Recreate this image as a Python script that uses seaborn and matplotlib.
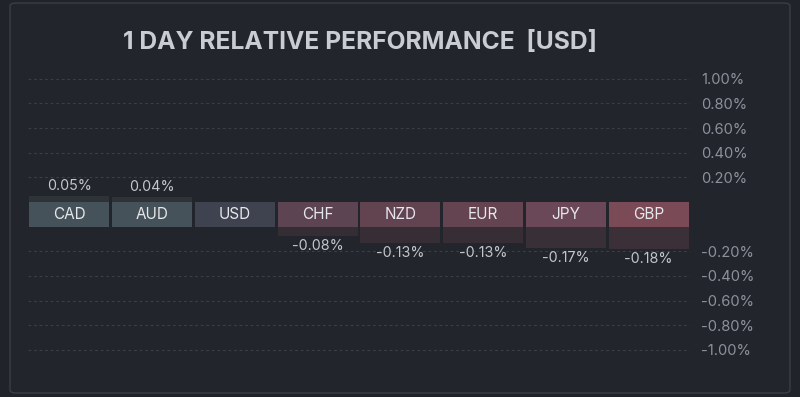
import numpy as np
import pandas as pd
import seaborn as sns
import matplotlib.pyplot as plt
from matplotlib.patches import FancyBboxPatch

# ---- data ----
currencies = ["CAD", "AUD", "USD", "CHF", "NZD", "EUR", "JPY", "GBP"]
changes = [0.05, 0.04, 0.00, -0.08, -0.13, -0.13, -0.17, -0.18]
box_colors = ["#45525a", "#45525a", "#3f4350", "#5d4452", "#624350", "#644451", "#6a4857", "#7a4a56"]
bar_colors = ["#2c3338", "#2c3338", "#2a2d36", "#352c35", "#372c36", "#382c36", "#3a2e38", "#3d2e38"]
tick_values = [1.0, 0.8, 0.6, 0.4, 0.2, -0.2, -0.4, -0.6, -0.8, -1.0]
title = "1 DAY RELATIVE PERFORMANCE  [USD]"
band = 0.1  # half-height of the label band around zero

BG = "#22252c"
sns.set_theme(style="dark")
plt.rcParams["font.family"] = ["Inter", "DejaVu Sans"]

df = pd.DataFrame({"currency": currencies, "change": changes})
df["shifted"] = [v + np.sign(v) * band for v in changes]

fig = plt.figure(figsize=(8, 3.97), dpi=100, facecolor="#202329")
panel = FancyBboxPatch((10 / 800, 4 / 397), 780 / 800, 390 / 397,
                       boxstyle="round,pad=0,rounding_size=0.008",
                       transform=fig.transFigure, facecolor=BG,
                       edgecolor="#3b3e47", linewidth=1.0, zorder=-5)
fig.patches.append(panel)

ax = fig.add_axes([28 / 800, 41 / 397, 662 / 800, 283.4 / 397])
ax.set_facecolor("none")
ax.set_zorder(2)

# faint value bars
sns.barplot(data=df, x="currency", y="shifted", hue="currency",
            palette=bar_colors, width=0.965, legend=False, ax=ax,
            linewidth=0, zorder=2)

# label boxes around the zero band
pos = np.arange(len(currencies))
ax.bar(pos, [2 * band] * len(currencies), bottom=-band, width=0.965,
       color=box_colors, linewidth=0, zorder=3)

for i, (cur, v, s) in enumerate(zip(currencies, changes, df["shifted"])):
    ax.text(i, 0, cur, ha="center", va="center", color="#e6e7ea",
            fontsize=11, zorder=4)
    if v > 0:
        ax.annotate(f"{v:.2f}%", (i, s), xytext=(0, 10), textcoords="offset pixels",
                    ha="center", va="center", color="#c3c6cd", fontsize=10.3)
    elif v < 0:
        ax.annotate(f"{v:.2f}%", (i, s), xytext=(0, -10), textcoords="offset pixels",
                    ha="center", va="center", color="#c3c6cd", fontsize=10.3)

ax.set_xlim(-0.5, len(currencies) - 0.5)
ax.set_ylim(-1.15, 1.15)
ticks = [t + np.sign(t) * band for t in tick_values]
ax.set_yticks(ticks)
ax.set_yticklabels([f"{t:.2f}%" for t in tick_values])
ax.yaxis.tick_right()
ax.tick_params(axis="y", length=0, pad=8, labelsize=10.6, labelcolor="#8d919b")
ax.set_xticks([])
ax.set_xlabel("")
ax.set_ylabel("")
ax.grid(axis="y", linestyle=(0, (2.5, 2.5)), color="#3a3e47", linewidth=0.8, zorder=1)
ax.grid(axis="x", visible=False)
for sp in ax.spines.values():
    sp.set_visible(False)

fig.text(360 / 800, 1 - 42 / 397, title, ha="center", va="center",
         fontsize=17.7, fontweight="bold", color="#c9ccd3")

fig.savefig("out.png", dpi=100, facecolor=fig.get_facecolor())
